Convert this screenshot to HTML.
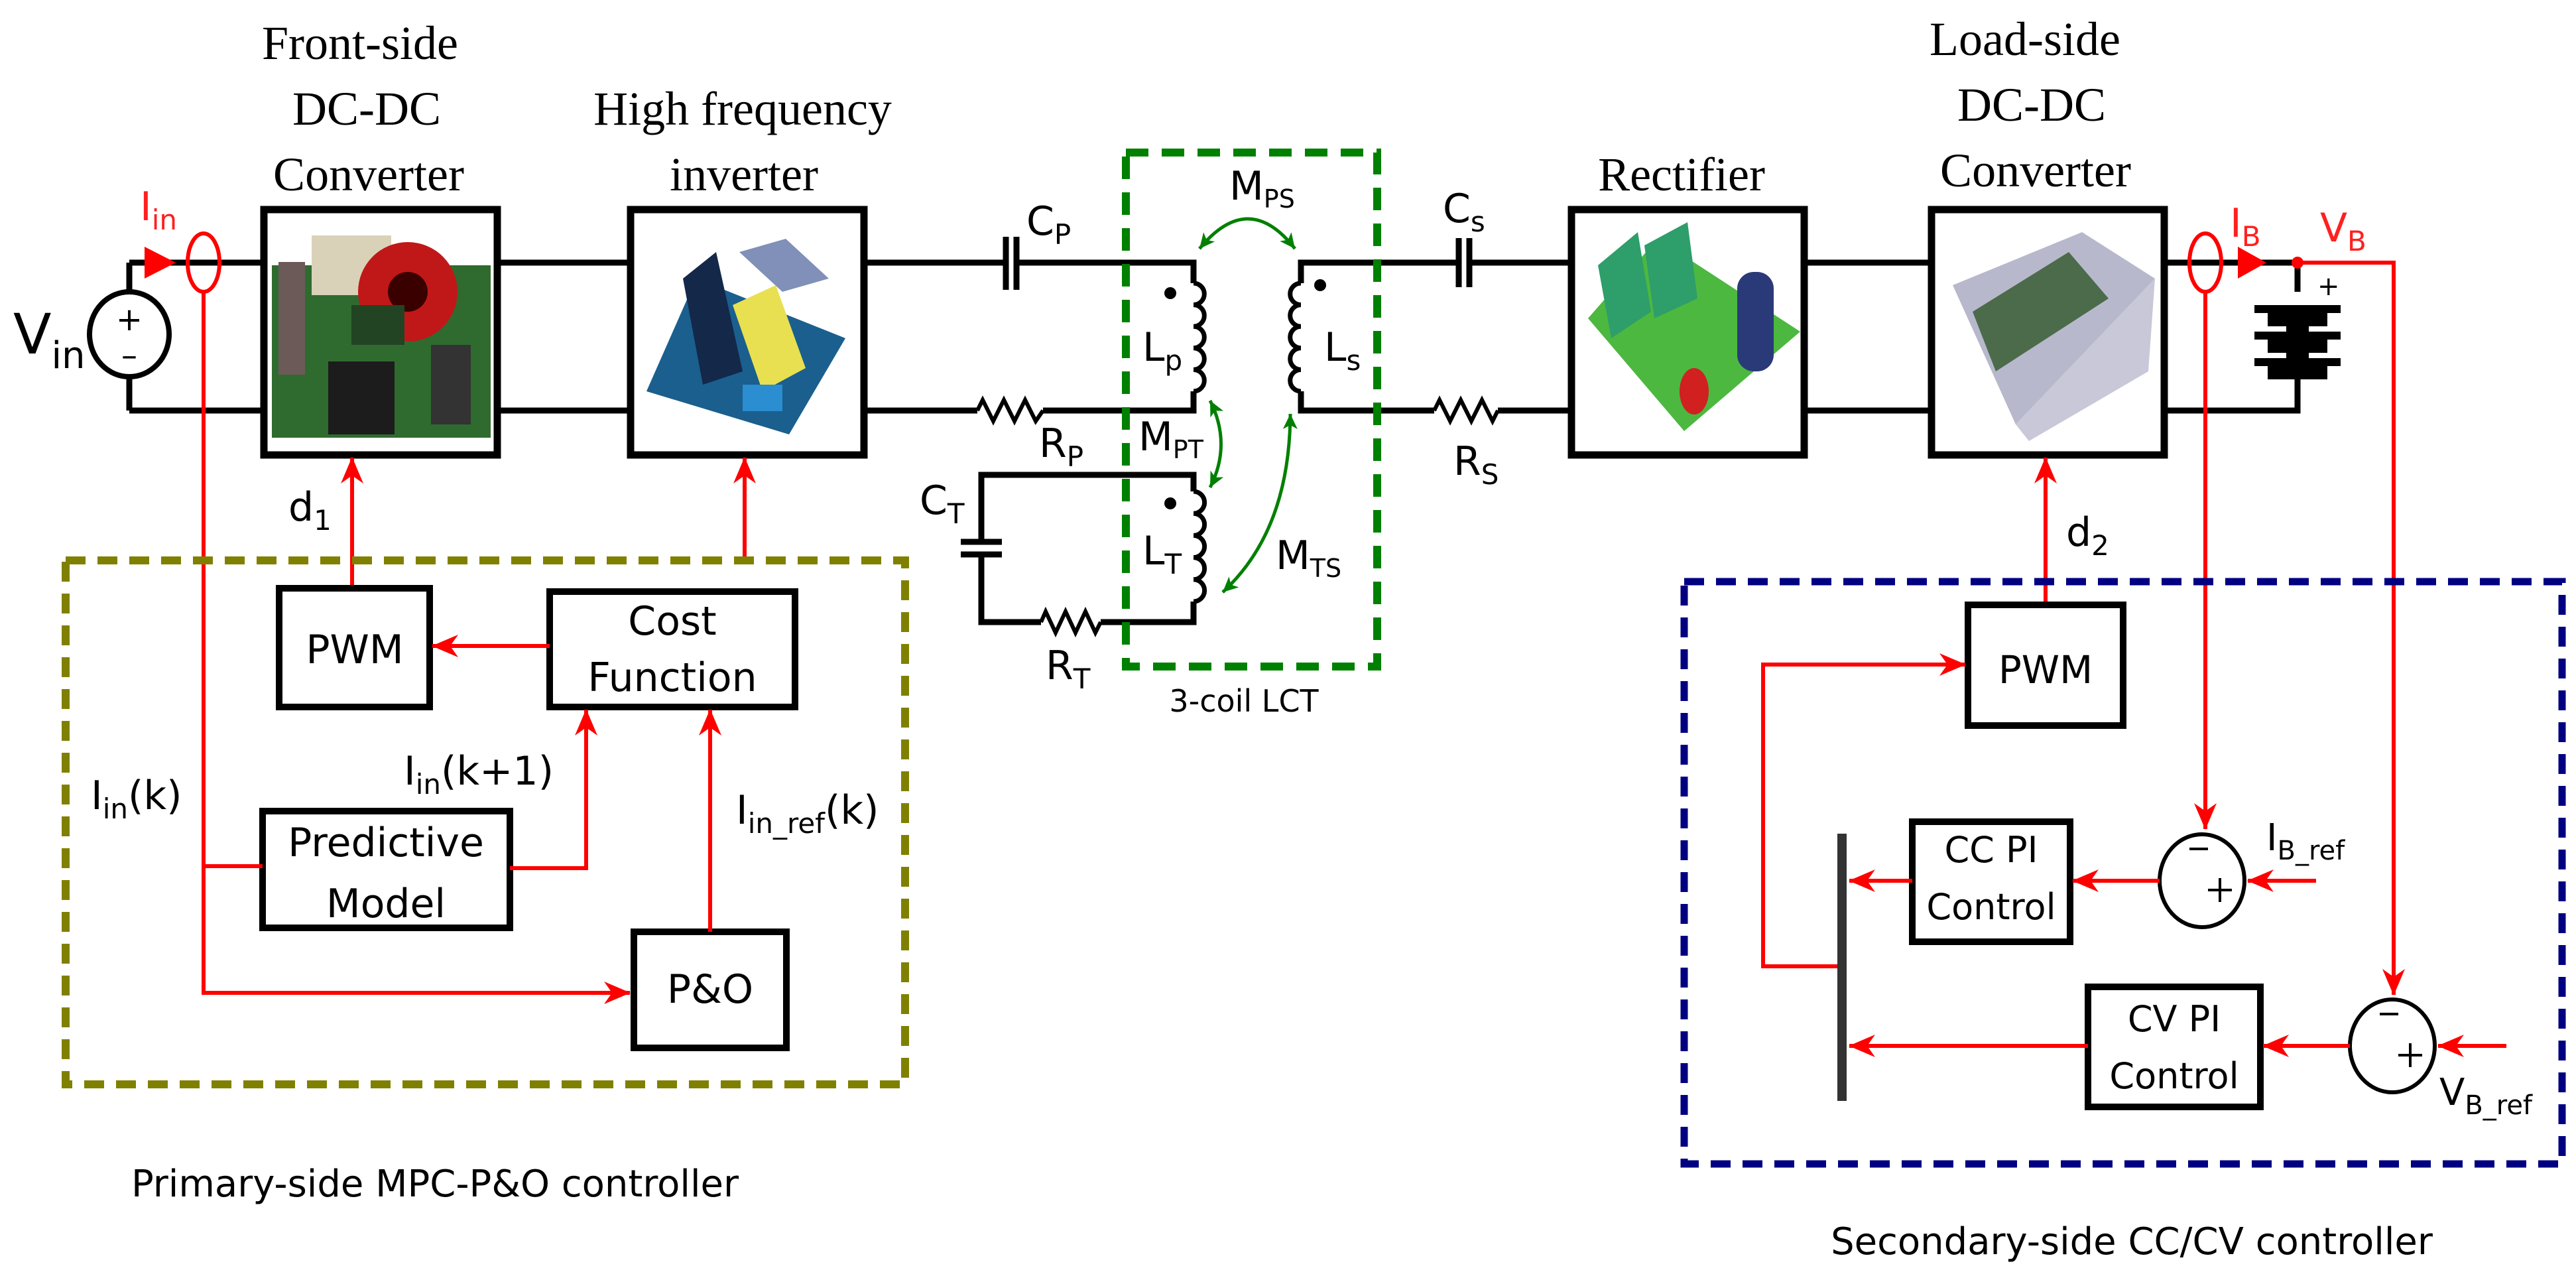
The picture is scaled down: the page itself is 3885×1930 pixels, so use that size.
<!DOCTYPE html>
<html><head><meta charset="utf-8"><style>
html,body{margin:0;padding:0;background:#fff;}
svg{display:block;}
.ser{font-family:"Liberation Serif",serif;fill:#000;}
.sans{font-family:"DejaVu Sans","Liberation Sans",sans-serif;fill:#000;}
</style></head><body>
<svg width="3885" height="1930" viewBox="0 0 3885 1930" xmlns="http://www.w3.org/2000/svg">
<defs>
<marker id="ar" markerWidth="10" markerHeight="10" refX="9" refY="5" orient="auto" markerUnits="userSpaceOnUse" viewBox="0 0 10 10" style="overflow:visible">
<path d="M10,5 L-30,-12 L-18,5 L-30,22 Z" fill="#ff0000"/></marker>
<marker id="ag" markerWidth="10" markerHeight="10" refX="5" refY="5" orient="auto-start-reverse" markerUnits="userSpaceOnUse" viewBox="0 0 10 10" style="overflow:visible">
<path d="M5,5 L-18,-6 L-12,5 L-18,16 Z" fill="#008000"/></marker>
</defs>
<rect width="3885" height="1930" fill="#fff"/>

<!-- Titles -->
<g class="ser" font-size="72" text-anchor="middle">
<text x="543" y="89">Front-side</text>
<text x="553" y="188">DC-DC</text>
<text x="556" y="287">Converter</text>
<text x="1120" y="188">High frequency</text>
<text x="1122" y="287">inverter</text>
<text x="2536" y="287">Rectifier</text>
<text x="3054" y="83">Load-side</text>
<text x="3064" y="182">DC-DC</text>
<text x="3070" y="281">Converter</text>
</g>

<!-- main wires -->
<g stroke="#000" stroke-width="9" fill="none">
<path d="M195,396 H398 M750,396 H951 M1303,396 H1517 M1533,396 H1800 V427"/>
<path d="M195,619 H398 M750,619 H951 M1303,619 H1474 M1573,619 H1800 V590"/>
<path d="M195,396 V440 M195,568 V619"/>
<path d="M1962,427 V396 H2200 M2216,396 H2370 M2721,396 H2913 M3264,396 H3465"/>
<path d="M1962,590 V619 H2163 M2259,619 H2370 M2721,619 H2913 M3264,619 H3465 V565 M3465,396 V440"/>
<path d="M1800,741 V716 H1480 V817 M1480,836 V938 H1570 M1660,938 H1800 V907"/>
<!-- caps -->
<path d="M1517,357 V437 M1533,357 V437 M2200,359 V433 M2216,359 V433 M1449,817 H1511 M1449,836 H1511"/>
<!-- resistors -->
<path d="M1474,619 l8,-16 l16,32 l16,-32 l16,32 l16,-32 l16,32 l11,-16" stroke-width="6"/>
<path d="M2163,619 l8,-16 l16,32 l16,-32 l16,32 l16,-32 l16,32 l8,-16" stroke-width="6"/>
<path d="M1570,938 l7,-16 l15,32 l15,-32 l15,32 l15,-32 l15,32 l8,-16" stroke-width="6"/>
<!-- coils -->
<path d="M1800,427 a16,16 0 0 1 0,32.6 a16,16 0 0 1 0,32.6 a16,16 0 0 1 0,32.6 a16,16 0 0 1 0,32.6 a16,16 0 0 1 0,32.6" stroke-width="7"/>
<path d="M1962,427 a16,16 0 0 0 0,32.6 a16,16 0 0 0 0,32.6 a16,16 0 0 0 0,32.6 a16,16 0 0 0 0,32.6 a16,16 0 0 0 0,32.6" stroke-width="7"/>
<path d="M1800,741 a16,16 0 0 1 0,33.2 a16,16 0 0 1 0,33.2 a16,16 0 0 1 0,33.2 a16,16 0 0 1 0,33.2 a16,16 0 0 1 0,33.2" stroke-width="7"/>
</g>
<circle cx="1765" cy="442" r="9"/><circle cx="1991" cy="430" r="9"/><circle cx="1765" cy="759" r="9"/>

<!-- Vin source -->
<ellipse cx="195" cy="504" rx="60" ry="64" fill="#fff" stroke="#000" stroke-width="8"/>
<text class="sans" x="195" y="498" font-size="48" text-anchor="middle">+</text>
<text class="sans" x="195" y="552" font-size="48" text-anchor="middle">–</text>
<text class="sans" x="20" y="533" font-size="84">V<tspan font-size="56" dy="22">in</tspan></text>

<!-- battery -->
<g fill="#000">
<rect x="3400" y="460" width="130" height="12"/><rect x="3420" y="472" width="90" height="20"/>
<rect x="3400" y="500" width="130" height="12"/><rect x="3420" y="512" width="90" height="20"/>
<rect x="3400" y="540" width="130" height="12"/><rect x="3420" y="552" width="90" height="20"/>
<rect x="3448" y="460" width="34" height="110"/>
</g>
<text class="sans" x="3495" y="445" font-size="40">+</text>

<!-- component boxes with pictures -->
<g stroke="#000" stroke-width="11" fill="#fff">
<rect x="398" y="316" width="352" height="370"/>
<rect x="951" y="316" width="352" height="370"/>
<rect x="2370" y="316" width="351" height="370"/>
<rect x="2913" y="316" width="351" height="370"/>
</g>
<!-- pic1 -->
<g>
<rect x="410" y="400" width="330" height="260" fill="#2f6b2f"/>
<rect x="470" y="355" width="120" height="90" fill="#d9d2b8"/>
<rect x="420" y="395" width="40" height="170" fill="#6b5a58"/>
<circle cx="615" cy="440" r="75" fill="#c01818"/><circle cx="615" cy="440" r="30" fill="#3a0000"/>
<rect x="495" y="545" width="100" height="110" fill="#1c1c1c"/>
<rect x="650" y="520" width="60" height="120" fill="#333"/>
<rect x="530" y="460" width="80" height="60" fill="#224422"/>
</g>
<!-- pic2 -->
<g>
<polygon points="975,590 1050,420 1275,510 1190,655" fill="#1a5f8e"/>
<polygon points="1030,420 1080,380 1120,560 1060,580" fill="#14284a"/>
<polygon points="1115,380 1185,360 1250,420 1180,440" fill="#8090b8"/>
<polygon points="1105,460 1170,430 1215,555 1150,590" fill="#e8e050"/>
<rect x="1120" y="580" width="60" height="40" fill="#2a8ed0"/>
</g>
<!-- pic3 -->
<g>
<polygon points="2395,480 2500,360 2715,500 2540,650" fill="#4cb840"/>
<polygon points="2410,400 2470,350 2490,470 2430,510" fill="#2e9e6a"/>
<polygon points="2480,370 2545,335 2560,450 2495,480" fill="#2e9e6a"/>
<rect x="2620" y="410" width="55" height="150" rx="25" fill="#2a3a78"/>
<ellipse cx="2555" cy="590" rx="22" ry="35" fill="#d02020"/>
</g>
<!-- pic4 -->
<g>
<polygon points="2945,430 3140,350 3250,420 3040,640" fill="#b8b8cc"/>
<polygon points="2975,470 3120,380 3180,450 3010,560" fill="#4b6b4b"/>
<polygon points="3040,640 3250,420 3240,560 3060,665" fill="#c8c8d8"/>
</g>

<!-- green LCT box -->
<rect x="1698" y="230" width="379" height="775" fill="none" stroke="#008000" stroke-width="12" stroke-dasharray="34,20"/>
<g stroke="#008000" stroke-width="5" fill="none">
<path d="M1809,375 Q1883,285 1953,375" marker-start="url(#ag)" marker-end="url(#ag)"/>
<path d="M1825,604 Q1858,670 1825,735" marker-start="url(#ag)" marker-end="url(#ag)"/>
<path d="M1844,893 Q1945,800 1946,624" marker-start="url(#ag)" marker-end="url(#ag)"/>
</g>

<!-- circuit labels -->
<g class="sans" font-size="60">
<text x="1548" y="354">C<tspan font-size="42" dy="14">P</tspan></text>
<text x="1567" y="689">R<tspan font-size="42" dy="14">P</tspan></text>
<text x="1387" y="775">C<tspan font-size="42" dy="14">T</tspan></text>
<text x="1577" y="1024">R<tspan font-size="42" dy="14">T</tspan></text>
<text x="1723" y="544">L<tspan font-size="42" dy="14">p</tspan></text>
<text x="1997" y="544">L<tspan font-size="42" dy="14">s</tspan></text>
<text x="1723" y="851">L<tspan font-size="42" dy="14">T</tspan></text>
<text x="1854" y="301">M<tspan font-size="38" dy="12">PS</tspan></text>
<text x="1717" y="679">M<tspan font-size="38" dy="12">PT</tspan></text>
<text x="1924" y="858">M<tspan font-size="38" dy="12">TS</tspan></text>
<text x="2176" y="335">C<tspan font-size="42" dy="14">s</tspan></text>
<text x="2192" y="716">R<tspan font-size="42" dy="14">S</tspan></text>
<text x="1876" y="1073" font-size="46" text-anchor="middle">3-coil LCT</text>
<text x="435" y="785">d<tspan font-size="42" dy="14">1</tspan></text>
<text x="3116" y="823">d<tspan font-size="42" dy="14">2</tspan></text>
</g>
<g class="sans" font-size="60" fill="#ff0000" style="fill:#ff2020">
<text x="211" y="332">I<tspan font-size="42" dy="14">in</tspan></text>
<text x="3363" y="357">I<tspan font-size="42" dy="14">B</tspan></text>
<text x="3499" y="364">V<tspan font-size="42" dy="14">B</tspan></text>
</g>

<!-- red sensors & top signals -->
<g stroke="#ff0000" fill="none" stroke-width="6">
<ellipse cx="307" cy="396" rx="24" ry="44"/>
<ellipse cx="3326" cy="396" rx="24" ry="44"/>
<path d="M3465,396 H3610 V1500" marker-end="url(#ar)"/>
<path d="M3326,440 V1250" marker-end="url(#ar)"/>
<path d="M307,440 V1497 H950" marker-end="url(#ar)"/>
<path d="M531,887 V690" marker-end="url(#ar)"/>
<path d="M1123,845 V690" marker-end="url(#ar)"/>
<path d="M3085,912 V690" marker-end="url(#ar)"/>
</g>
<polygon points="218,372 265,396 218,420" fill="#ff0000"/>
<polygon points="3375,372 3418,396 3375,420" fill="#ff0000"/>
<circle cx="3465" cy="396" r="9" fill="#ff0000"/>

<!-- olive controller -->
<rect x="99" y="845" width="1266" height="790" fill="none" stroke="#808000" stroke-width="12" stroke-dasharray="30,18"/>
<g stroke="#000" stroke-width="10" fill="#fff">
<rect x="421" y="887" width="227" height="179"/>
<rect x="829" y="892" width="370" height="174"/>
<rect x="396" y="1223" width="373" height="176"/>
<rect x="956" y="1405" width="230" height="175"/>
</g>
<g stroke="#ff0000" fill="none" stroke-width="6">
<path d="M829,974 H652" marker-end="url(#ar)"/>
<path d="M307,1306 H396"/>
<path d="M769,1309 H884 V1070" marker-end="url(#ar)"/>
<path d="M1071,1405 V1070" marker-end="url(#ar)"/>
</g>
<g class="sans" font-size="60" text-anchor="middle">
<text x="535" y="1000">PWM</text>
<text x="1014" y="957">Cost</text>
<text x="1014" y="1042">Function</text>
<text x="582" y="1291">Predictive</text>
<text x="582" y="1383">Model</text>
<text x="1071" y="1512">P&amp;O</text>
</g>
<g class="sans" font-size="60">
<text x="137" y="1220">I<tspan font-size="42" dy="14">in</tspan><tspan dy="-14">(k)</tspan></text>
<text x="609" y="1183">I<tspan font-size="42" dy="14">in</tspan><tspan dy="-14">(k+1)</tspan></text>
<text x="1110" y="1242">I<tspan font-size="42" dy="14">in_ref</tspan><tspan dy="-14">(k)</tspan></text>
<text x="198" y="1804" font-size="56">Primary-side MPC-P&amp;O controller</text>
</g>

<!-- blue controller -->
<rect x="2540" y="877" width="1324" height="878" fill="none" stroke="#000080" stroke-width="11" stroke-dasharray="30,18"/>
<g stroke="#000" stroke-width="10" fill="#fff">
<rect x="2968" y="912" width="234" height="182"/>
<rect x="2884" y="1239" width="238" height="181"/>
<rect x="3149" y="1488" width="260" height="181"/>
</g>
<ellipse cx="3321" cy="1328" rx="64" ry="70" fill="#fff" stroke="#000" stroke-width="6"/>
<ellipse cx="3608" cy="1577" rx="64" ry="70" fill="#fff" stroke="#000" stroke-width="6"/>
<g stroke="#000" stroke-width="4">
<path d="M3302,1280 H3330 M3330,1342 H3366 M3348,1324 V1360"/>
<path d="M3589,1529 H3617 M3617,1591 H3653 M3635,1573 V1609"/>
</g>
<rect x="2771" y="1257" width="14" height="403" fill="#333"/>
<g stroke="#ff0000" fill="none" stroke-width="6">
<path d="M2771,1457 H2659 V1002 H2964" marker-end="url(#ar)"/>
<path d="M3493,1328 H3390" marker-end="url(#ar)"/>
<path d="M3257,1328 H3126" marker-end="url(#ar)"/>
<path d="M2884,1328 H2789" marker-end="url(#ar)"/>
<path d="M3780,1577 H3677" marker-end="url(#ar)"/>
<path d="M3544,1577 H3413" marker-end="url(#ar)"/>
<path d="M3149,1577 H2789" marker-end="url(#ar)"/>
</g>
<g class="sans" font-size="54" text-anchor="middle">
<text x="3085" y="1030" font-size="58">PWM</text>
<text x="3003" y="1300">CC PI</text>
<text x="3003" y="1386">Control</text>
<text x="3279" y="1555">CV PI</text>
<text x="3279" y="1641">Control</text>
</g>
<g class="sans" font-size="56">
<text x="3418" y="1282">I<tspan font-size="40" dy="14">B_ref</tspan></text>
<text x="3679" y="1666">V<tspan font-size="40" dy="14">B_ref</tspan></text>
<text x="3215" y="1891" text-anchor="middle">Secondary-side CC/CV controller</text>
</g>
</svg>
</body></html>
